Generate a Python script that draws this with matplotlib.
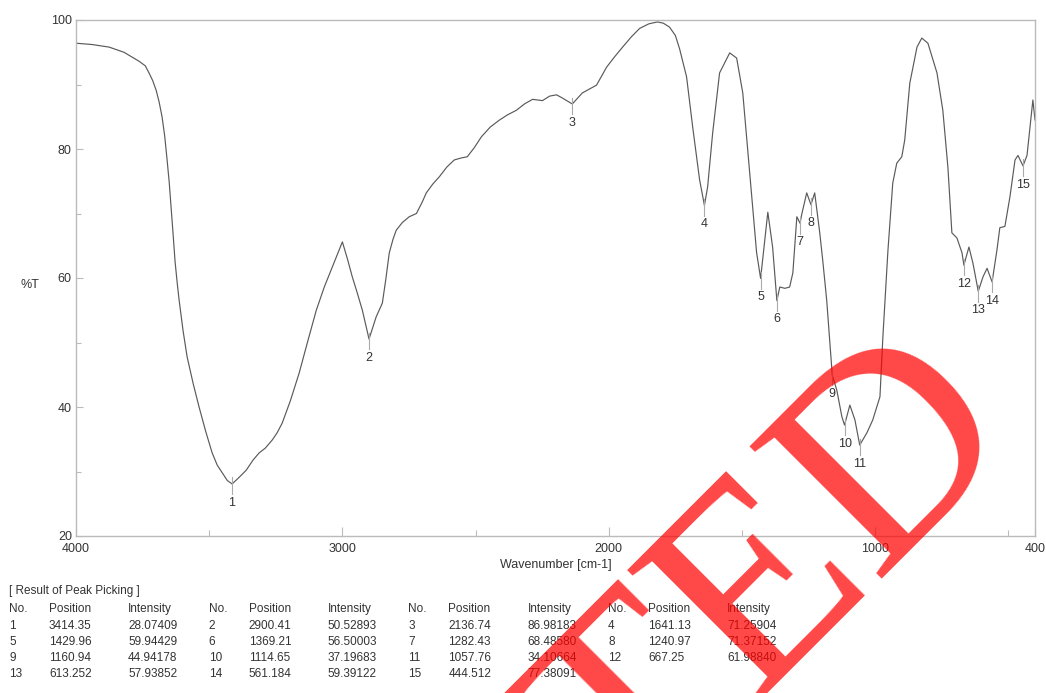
import matplotlib.pyplot as plt
import numpy as np

# spectrum: wavenumber [cm-1] and %T
wavenumber = [4000, 3940, 3876, 3820, 3763, 3740, 3726, 3712, 3699, 3688,
              3677, 3667, 3658, 3650, 3643, 3635, 3628, 3620, 3613, 3598,
              3583, 3560, 3538, 3513, 3489, 3470, 3451, 3432, 3414, 3390,
              3361, 3335, 3312, 3290, 3263, 3245, 3226, 3195, 3162, 3130,
              3098, 3068, 3038, 3018, 3000, 2980, 2963, 2945, 2925, 2900,
              2873, 2850, 2837, 2824, 2810, 2798, 2775, 2749, 2722, 2700,
              2685, 2660, 2636, 2608, 2580, 2555, 2531, 2505, 2478, 2445,
              2410, 2380, 2347, 2316, 2286, 2249, 2222, 2196, 2174, 2137,
              2099, 2046, 2008, 1978, 1948, 1915, 1884, 1850, 1817, 1795,
              1772, 1750, 1734, 1708, 1685, 1659, 1641, 1629, 1610, 1584,
              1546, 1520, 1497, 1471, 1445, 1430, 1403, 1385, 1369, 1358,
              1339, 1321, 1309, 1294, 1282, 1276, 1257, 1241, 1227, 1208,
              1197, 1182, 1170, 1161, 1144, 1125, 1115, 1095, 1076, 1058,
              1031, 1009, 982, 971, 952, 934, 919, 900, 889, 870,
              843, 825, 802, 768, 746, 727, 712, 693, 674, 667,
              648, 633, 613, 595, 580, 561, 543, 532, 513, 494,
              475, 464, 445, 430, 408, 400]
transmittance = [96.4, 96.2, 95.8, 95.0, 93.6, 92.9, 91.8, 90.6, 89.1, 87.3,
                 85.0, 82.0, 78.3, 74.8, 71.0, 66.5, 62.5, 59.2, 56.6, 51.8,
                 47.8, 43.6, 40.0, 36.2, 32.9, 31.0, 29.8, 28.6, 28.07, 29.0,
                 30.2, 31.8, 32.9, 33.6, 34.9, 36.0, 37.5, 41.0, 45.3, 50.2,
                 55.0, 58.6, 61.7, 63.8, 65.6, 62.8, 60.2, 57.8, 55.0, 50.53,
                 54.0, 56.1, 59.8, 63.9, 66.0, 67.4, 68.6, 69.5, 70.0, 71.8,
                 73.2, 74.6, 75.7, 77.2, 78.3, 78.6, 78.8, 80.2, 81.9, 83.4,
                 84.5, 85.3, 86.0, 87.0, 87.7, 87.5, 88.2, 88.4, 87.9, 86.98,
                 88.7, 89.9, 92.7, 94.3, 95.8, 97.4, 98.7, 99.4, 99.7, 99.5,
                 98.9, 97.6, 95.5, 91.2, 83.4, 75.2, 71.26, 74.1, 82.5, 91.8,
                 94.9, 94.1, 88.7, 76.3, 63.9, 59.94, 70.2, 64.8, 56.5, 58.6,
                 58.4, 58.6, 60.8, 69.5, 68.49, 69.8, 73.2, 71.37, 73.2, 67.0,
                 62.8, 56.6, 50.0, 44.94, 42.6, 38.5, 37.2, 40.3, 38.0, 34.1,
                 36.0, 38.0, 41.6, 50.9, 64.3, 74.7, 77.8, 78.8, 81.4, 90.2,
                 95.8, 97.2, 96.4, 91.8, 86.0, 77.2, 67.0, 66.2, 63.9, 61.99,
                 64.8, 62.3, 57.94, 60.2, 61.5, 59.39, 64.3, 67.8, 68.0, 72.6,
                 78.3, 79.0, 77.38, 79.0, 87.6, 84.5]

# peak picking table
peak_no = list(range(1, 16))
peak_pos = ['3414.35', '2900.41', '2136.74', '1641.13', '1429.96', '1369.21',
            '1282.43', '1240.97', '1160.94', '1114.65', '1057.76', '667.25',
            '613.252', '561.184', '444.512']
peak_int = ['28.07409', '50.52893', '86.98183', '71.25904', '59.94429',
            '56.50003', '68.48580', '71.37152', '44.94178', '37.19683',
            '34.10664', '61.98840', '57.93852', '59.39122', '77.38091']

plt.rcParams['font.family'] = ['Liberation Sans', 'DejaVu Sans']
txt = '#333333'
spine = '#bbbbbb'

fig = plt.figure(figsize=(10.46, 6.93), dpi=100)
ax = fig.add_axes([76 / 1046, 1 - 536 / 693, (1035 - 76) / 1046, (536 - 20) / 693])

ax.plot(wavenumber, transmittance, color='#5a5a5a', lw=0.85)

# peak marks and numbers
for n, p, t in zip(peak_no, peak_pos, peak_int):
    x, y = float(p), float(t)
    ax.plot([x, x], [y + 1.0, y - 1.6], color='#aaaaaa', lw=0.8)
    ax.text(x, y - 2.9, str(n), ha='center', va='center', fontsize=9, color=txt)

ax.set_xlim(4000, 400)
ax.set_ylim(20, 100)
ax.set_xticks([4000, 3000, 2000, 1000, 400])
ax.set_xticks([3500, 2500, 1500, 500], minor=True)
ax.set_yticks([20, 40, 60, 80, 100])
ax.set_yticks([30, 50, 70, 90], minor=True)
ax.tick_params(which='both', direction='in', colors=spine, labelcolor=txt,
               labelsize=9, width=0.8)
ax.tick_params(axis='x', which='major', length=6.5, pad=5)
ax.tick_params(axis='x', which='minor', length=4.5)
ax.tick_params(axis='y', which='major', length=5, pad=3)
ax.tick_params(axis='y', which='minor', length=3.5)
for s in ax.spines.values():
    s.set_color(spine)
    s.set_linewidth(1.0)

ax.set_xlabel('Wavenumber [cm-1]', fontsize=9, color=txt, labelpad=3)
fig.text(30 / 1046, 1 - 285 / 693, '%T', fontsize=9, color=txt,
         ha='center', va='center')

# table under the chart
fig.text(9 / 1046, 1 - 591 / 693, '[ Result of Peak Picking ]', fontsize=8.5,
         color=txt, va='center')
col_off = [0, 40, 119]
for g in range(4):
    gx = 9 + g * 199.7
    for k, h in enumerate(['No.', 'Position', 'Intensity']):
        fig.text((gx + col_off[k]) / 1046, 1 - 609 / 693, h, fontsize=8.5,
                 color=txt, va='center')
for i in range(len(peak_no)):
    row, g = divmod(i, 4)
    gx = 9 + g * 199.7
    ry = 626 + row * 16
    vals = [str(peak_no[i]), peak_pos[i], peak_int[i]]
    for k, v in enumerate(vals):
        fig.text((gx + col_off[k]) / 1046, 1 - ry / 693, v, fontsize=8.5,
                 color=txt, va='center')

# red stamp across the lower right
fig.text(1020 / 1046, 1 - 432 / 693, 'RETRACTED', fontsize=205,
         family='Liberation Serif', color='#ff0000', alpha=0.72,
         rotation=45, rotation_mode='anchor', ha='right', va='baseline',
         zorder=10)

fig.savefig('out.png', dpi=100)
